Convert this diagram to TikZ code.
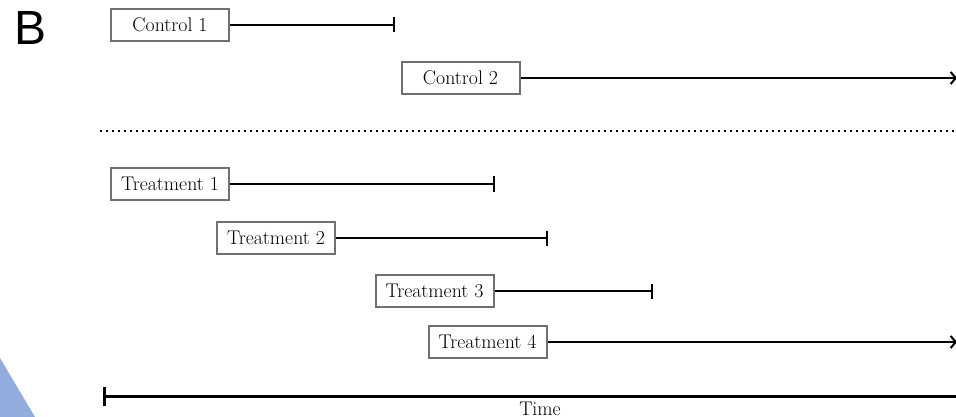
\documentclass[tikz,border=0pt]{standalone}
\usepackage{fontspec}
\usetikzlibrary{arrows.meta}
\newfontfamily\panelfont{Liberation Sans}
\definecolor{boxgray}{RGB}{112,112,112}
\definecolor{wedgeblue}{RGB}{146,172,221}
\begin{document}
\begin{tikzpicture}[x=1pt,y=-1pt,
  phase/.style={draw=boxgray, line width=2pt, fill=white,
    minimum width=118pt, minimum height=32pt, inner sep=0pt,
    font=\fontsize{19.8}{22}\selectfont},
  stopline/.style={line width=2pt, -{Bar[width=15pt,line width=1.8pt]}},
  ongoing/.style={line width=2pt, -{Straight Barb[length=5pt,width=12pt,line width=2pt]}},
]
\useasboundingbox (0,0) rectangle (956,417);

% corner decoration
\fill[wedgeblue] (0,358) -- (35,417) -- (0,417) -- cycle;

% panel letter
\node[font=\panelfont\fontsize{48}{48}\selectfont] (panel) at (31,28) {B};

% control arms
\node[phase] (ctrl1) at (170,25) {Control 1};
\coordinate (ctrl1end) at (395,25);
\draw[stopline] (ctrl1.east) -- (ctrl1end);

\node[phase] (ctrl2) at (460.5,78) {Control 2};
\coordinate (ctrl2end) at (957,78);
\draw[ongoing] (ctrl2.east) -- (ctrl2end);

% separator
\coordinate (sepL) at (100,131);
\coordinate (sepR) at (956,131);
\draw[line width=2pt, dash pattern=on 2pt off 4pt] (sepL) -- (sepR);

% treatment arms
\node[phase] (tr1) at (170,184) {Treatment 1};
\coordinate (tr1end) at (495,184);
\draw[stopline] (tr1.east) -- (tr1end);

\node[phase] (tr2) at (276,238) {Treatment 2};
\coordinate (tr2end) at (548,238);
\draw[stopline] (tr2.east) -- (tr2end);

\node[phase] (tr3) at (434.5,291) {Treatment 3};
\coordinate (tr3end) at (653,291);
\draw[stopline] (tr3.east) -- (tr3end);

\node[phase] (tr4) at (487.5,342) {Treatment 4};
\coordinate (tr4end) at (957,342);
\draw[ongoing] (tr4.east) -- (tr4end);

% time axis
\coordinate (tstart) at (103,396);
\coordinate (tend) at (958,396);
\draw[line width=3pt, {Bar[width=19pt,line width=2.5pt]}-{Bar[width=19pt,line width=2.5pt]}] (tstart) -- (tend);
\node[anchor=base, font=\fontsize{19.8}{22}\selectfont] (timelabel) at (540,415) {Time};
\end{tikzpicture}
\end{document}
